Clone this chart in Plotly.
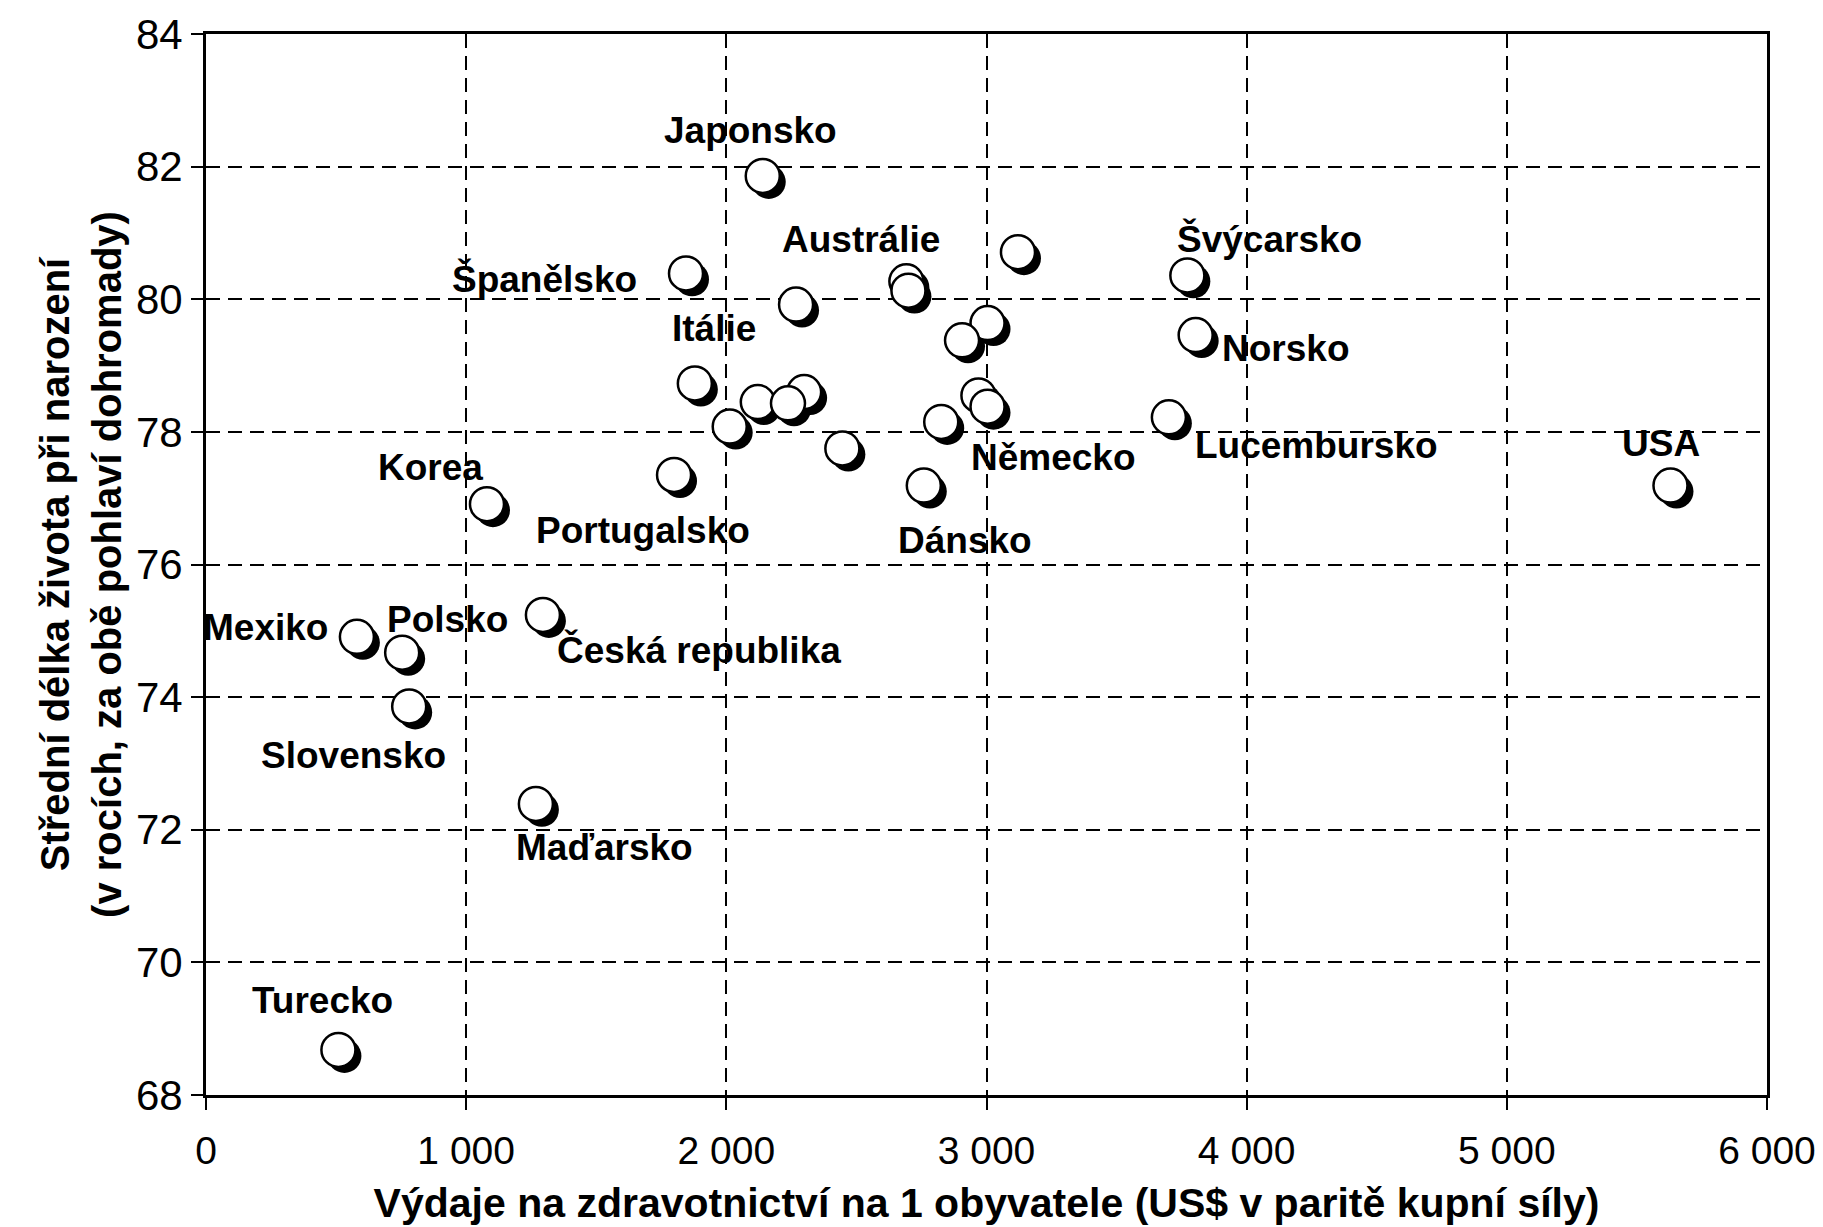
import plotly.graph_objects as go

# --- data ---
labels = ["Japonsko", "Španělsko", "Austrálie", "", "", "Švýcarsko", "", "", "",
          "Norsko", "Itálie", "", "", "", "", "", "Německo", "", "Lucembursko",
          "", "Portugalsko", "Dánsko", "Korea", "USA", "Česká republika",
          "Mexiko", "Polsko", "Slovensko", "Maďarsko", "Turecko"]
spending = [2140, 1845, 2692, 2700, 3121, 3772, 2268, 3004, 2906,
            3804, 1879, 2299, 2121, 2237, 2013, 2969, 3004, 2826, 3701,
            2446, 1799, 2759, 1080, 5629, 1295,
            580, 754, 781, 1268, 509]
life_exp = [81.86, 80.39, 80.27, 80.13, 80.71, 80.36, 79.92, 79.64, 79.38,
            79.46, 78.73, 78.60, 78.45, 78.43, 78.08, 78.55, 78.38, 78.15, 78.22,
            77.75, 77.35, 77.19, 76.91, 77.19, 75.24,
            74.91, 74.67, 73.86, 72.39, 68.68]

x_ticks = [0, 1000, 2000, 3000, 4000, 5000, 6000]
x_ticktext = ["0", "1 000", "2 000", "3 000", "4 000", "5 000", "6 000"]
y_ticks = [68, 70, 72, 74, 76, 78, 80, 82, 84]

x_title = "Výdaje na zdravotnictví na 1 obyvatele (US$ v paritě kupní síly)"
y_title = "<b>Střední délka života při narození</b><br><b>(v rocích, za obě pohlaví dohromady)</b>"

# --- label placement (pixel offsets from the point, anchor) ---
label_pos = {
    "Japonsko": (-12, -45, "center"),
    "Španělsko": (-47, 6, "right"),
    "Austrálie": (-45, -42, "center"),
    "Švýcarsko": (-12, -36, "left"),
    "Itálie": (19, -55, "center"),
    "Norsko": (24, 13, "left"),
    "Korea": (-2, -37, "right"),
    "Portugalsko": (-31, 56, "center"),
    "Německo": (-19, 51, "left"),
    "Dánsko": (41, 55, "center"),
    "Lucembursko": (24, 28, "left"),
    "USA": (-9, -42, "center"),
    "Mexiko": (-27, -9, "right"),
    "Polsko": (45, -33, "center"),
    "Česká republika": (12, 35, "left"),
    "Slovensko": (-56, 49, "center"),
    "Maďarsko": (69, 44, "center"),
    "Turecko": (-16, -49, "center"),
}

# shadow offset in data units (~6 px right/down)
px_x = 6000 / 1563.0
px_y = 16 / 1064.0
sh_x = [v + 6 * px_x for v in spending]
sh_y = [v - 6 * px_y for v in life_exp]

fig = go.Figure()
fig.add_trace(go.Scatter(x=sh_x, y=sh_y, mode="markers",
                         marker=dict(size=34, color="black", line=dict(width=0)),
                         hoverinfo="skip", showlegend=False))
fig.add_trace(go.Scatter(x=spending, y=life_exp, mode="markers",
                         marker=dict(size=34, color="white", line=dict(width=2.5, color="black")),
                         text=labels, showlegend=False))

font_fam = "Liberation Sans, Arial, sans-serif"
for name, xv, yv in zip(labels, spending, life_exp):
    if not name:
        continue
    dx, dy, anc = label_pos[name]
    fig.add_annotation(x=xv, y=yv, text="<b>" + name + "</b>", showarrow=False,
                       xshift=dx, yshift=-dy, xanchor=anc, yanchor="middle",
                       font=dict(family=font_fam, size=37, color="black"))

fig.update_layout(
    width=1823, height=1227,
    margin=dict(l=198, r=64, t=26, b=140),
    paper_bgcolor="white", plot_bgcolor="white",
    font=dict(family=font_fam, color="black"),
    xaxis=dict(range=[0, 6000], tickvals=x_ticks, ticktext=x_ticktext,
               showgrid=True, gridcolor="black", gridwidth=1.5, griddash="14px,8px",
               showline=True, linecolor="black", linewidth=3, mirror=True,
               ticks="outside", ticklen=12, tickwidth=2, tickcolor="black",
               tickfont=dict(size=39), zeroline=False, ticklabeloverflow="allow",
               ticklabelstandoff=7, automargin=False,
               title=dict(text="<b>" + x_title + "</b>", font=dict(size=41), standoff=18)),
    yaxis=dict(range=[68, 84], tickvals=y_ticks,
               showgrid=True, gridcolor="black", gridwidth=1.5, griddash="14px,8px",
               showline=True, linecolor="black", linewidth=3, mirror=True,
               ticks="outside", ticklen=12, tickwidth=2, tickcolor="black",
               tickfont=dict(size=42), zeroline=False, ticklabeloverflow="allow",
               automargin=False,
               title=dict(text=y_title, font=dict(size=40), standoff=2)),
)

fig.write_html("out.html")
